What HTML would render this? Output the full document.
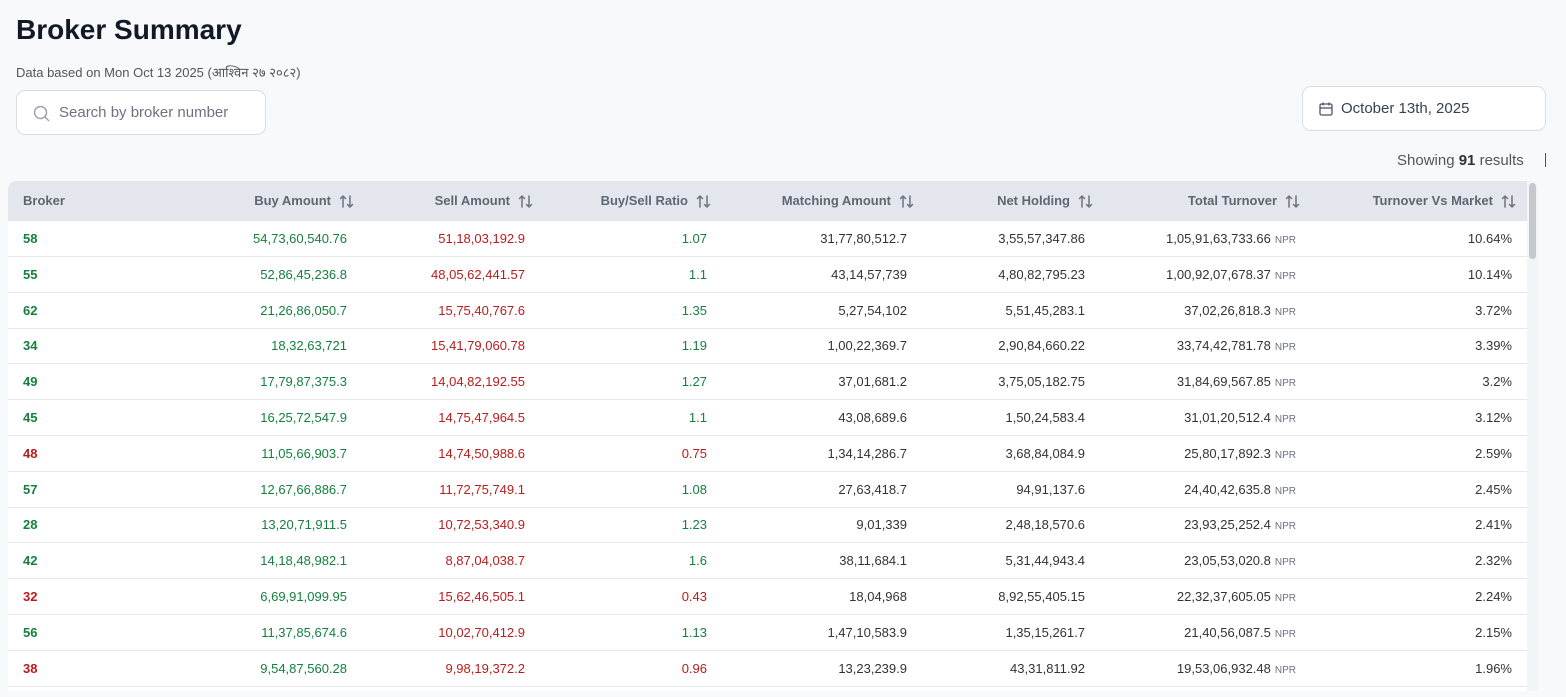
<!DOCTYPE html>
<html><head><meta charset="utf-8">
<style>
*{box-sizing:border-box;margin:0;padding:0}
body{width:1566px;height:697px;overflow:hidden;background:#f8f9fb;font-family:"Liberation Sans","Noto Sans CJK SC",sans-serif;color:#333;position:relative}
.abs{position:absolute;white-space:nowrap}
#title{left:16px;top:14px;font-size:28px;font-weight:bold;color:#111827}
#sub{left:16px;top:63px;font-size:13px;color:#555}
#search{left:16px;top:90px;width:250px;height:45px;background:#fff;border:1px solid #d9dce1;border-radius:9px}
#search span{position:absolute;left:42px;top:13px;font-size:15px;color:#6b7280}
#date{left:1302px;top:86px;width:244px;height:45px;background:#fff;border:1px solid #d9dce1;border-radius:9px}
#date span{position:absolute;left:38px;top:13px;font-size:15px;color:#374151}
#showing{left:1398px;top:152px;font-size:15px;color:#555}
#tbl{left:8px;top:181px;width:1530px;height:510px;background:#fff;border-radius:8px 8px 0 0;overflow:hidden}
#thead{position:absolute;left:0;top:0;width:1519px;height:40px;background:#e3e7ed}
.th{position:absolute;top:12px;font-size:13px;font-weight:bold;color:#5f6673}
.sort{position:absolute;top:13px}
.row{position:absolute;left:0;width:1519px;height:36px;border-bottom:1px solid #e5e7eb}
.c{position:absolute;top:10px;font-size:13px;white-space:nowrap}
.g{color:#15803d}.r{color:#b91c1c}.k{color:#333}
.npr{font-size:10px;color:#6b7280;margin-left:4px}
#scroll{position:absolute;left:1519px;top:0;width:11px;height:510px;background:#f3f4f6}
#thumb{position:absolute;left:1521px;top:2px;width:7px;height:76px;background:#c4c7cc;border-radius:4px}
</style></head><body>
<div id="title" class="abs">Broker Summary</div>
<div id="sub" class="abs">Data based on Mon Oct 13 2025 (आश्विन २७ २०८२)</div>
<div id="search" class="abs">
<svg style="position:absolute;left:16px;top:14px" width="18" height="18" viewBox="0 0 18 18"><circle cx="7.5" cy="7.5" r="6" fill="none" stroke="#9ca3af" stroke-width="1.5"/><line x1="12" y1="12" x2="16" y2="16" stroke="#9ca3af" stroke-width="1.5"/></svg>
<span>Search by broker number</span></div>
<div id="date" class="abs">
<svg style="position:absolute;left:16px;top:15px" width="14" height="14" viewBox="0 0 14 14"><rect x="1" y="2" width="12" height="11" rx="1.5" fill="none" stroke="#4b5563" stroke-width="1.3"/><line x1="1" y1="6" x2="13" y2="6" stroke="#4b5563" stroke-width="1.3"/><line x1="4" y1="0.5" x2="4" y2="3.5" stroke="#4b5563" stroke-width="1.3"/><line x1="10" y1="0.5" x2="10" y2="3.5" stroke="#4b5563" stroke-width="1.3"/></svg>
<span>October 13th, 2025</span></div>
<div id="showing" class="abs" style="left:1397px;top:152px;font-size:15px">Showing <b style="color:#333">91</b> results</div>
<div class="abs" style="left:1545px;top:153px;width:1px;height:14px;background:#555"></div>
<div id="tbl" class="abs">
<div id="thead"></div>
<div id="body"></div>
<div id="scroll"></div>
<div id="thumb"></div>
</div>
<script>
const brokers=["58","55","62","34","49","45","48","57","28","42","32","56","38"];
const buyAmounts=["54,73,60,540.76","52,86,45,236.8","21,26,86,050.7","18,32,63,721","17,79,87,375.3","16,25,72,547.9","11,05,66,903.7","12,67,66,886.7","13,20,71,911.5","14,18,48,982.1","6,69,91,099.95","11,37,85,674.6","9,54,87,560.28"];
const sellAmounts=["51,18,03,192.9","48,05,62,441.57","15,75,40,767.6","15,41,79,060.78","14,04,82,192.55","14,75,47,964.5","14,74,50,988.6","11,72,75,749.1","10,72,53,340.9","8,87,04,038.7","15,62,46,505.1","10,02,70,412.9","9,98,19,372.2"];
const ratios=[1.07,1.1,1.35,1.19,1.27,1.1,0.75,1.08,1.23,1.6,0.43,1.13,0.96];
const matching=["31,77,80,512.7","43,14,57,739","5,27,54,102","1,00,22,369.7","37,01,681.2","43,08,689.6","1,34,14,286.7","27,63,418.7","9,01,339","38,11,684.1","18,04,968","1,47,10,583.9","13,23,239.9"];
const netHolding=["3,55,57,347.86","4,80,82,795.23","5,51,45,283.1","2,90,84,660.22","3,75,05,182.75","1,50,24,583.4","3,68,84,084.9","94,91,137.6","2,48,18,570.6","5,31,44,943.4","8,92,55,405.15","1,35,15,261.7","43,31,811.92"];
const turnover=["1,05,91,63,733.66","1,00,92,07,678.37","37,02,26,818.3","33,74,42,781.78","31,84,69,567.85","31,01,20,512.4","25,80,17,892.3","24,40,42,635.8","23,93,25,252.4","23,05,53,020.8","22,32,37,605.05","21,40,56,087.5","19,53,06,932.48"];
const marketPct=["10.64%","10.14%","3.72%","3.39%","3.2%","3.12%","2.59%","2.45%","2.41%","2.32%","2.24%","2.15%","1.96%"];
const headers=["Buy Amount","Sell Amount","Buy/Sell Ratio","Matching Amount","Net Holding","Total Turnover","Turnover Vs Market"];
const hdrRight=[323,502,680,883,1062,1269,1485];
const colRight=[339,517,699,899,1077,1288,1504];
const thead=document.getElementById('thead');
let b=document.createElement('div');b.className='th';b.style.left='15px';b.textContent='Broker';


thead.appendChild(b);
const sortSvg='<svg width="15" height="15" viewBox="0 0 15 15"><g fill="none" stroke="#6b7280" stroke-width="1.5" stroke-linecap="round" stroke-linejoin="round"><path d="M4 13V2M1.5 4.5L4 2l2.5 2.5"/><path d="M11 2v11M8.5 10.5L11 13l2.5-2.5"/></g></svg>';
headers.forEach((h,i)=>{
 const t=document.createElement('div');t.className='th';t.style.right=(1519-hdrRight[i])+'px';t.textContent=h;
 
 
 thead.appendChild(t);
 const s=document.createElement('div');s.className='sort';s.style.left=(hdrRight[i]+8)+'px';s.innerHTML=sortSvg;
 
 
 thead.appendChild(s);
});
const body=document.getElementById('body');
const rowH=35.8;
brokers.forEach((br,i)=>{
 const row=document.createElement('div');row.className='row';row.style.top=(40+i*rowH)+'px';
 
 
 const up=ratios[i]>=1;
 const cell=(txt,cls,right,left,bold)=>{const c=document.createElement('div');c.className='c '+cls;
  if(left!=null)c.style.left=left+'px';else c.style.right=(1519-right)+'px';
  if(bold)c.style.fontWeight='bold';c.innerHTML=txt;
  
  
  row.appendChild(c);};
 cell(br,up?'g':'r',null,15,true);
 cell(buyAmounts[i],'g',colRight[0]);
 cell(sellAmounts[i],'r',colRight[1]);
 cell(String(ratios[i]),up?'g':'r',colRight[2]);
 cell(matching[i],'k',colRight[3]);
 cell(netHolding[i],'k',colRight[4]);
 cell(turnover[i]+'<span class="npr">NPR</span>','k',colRight[5]);
 cell(marketPct[i],'k',colRight[6]);
 body.appendChild(row);
});
</script>
</body></html>
